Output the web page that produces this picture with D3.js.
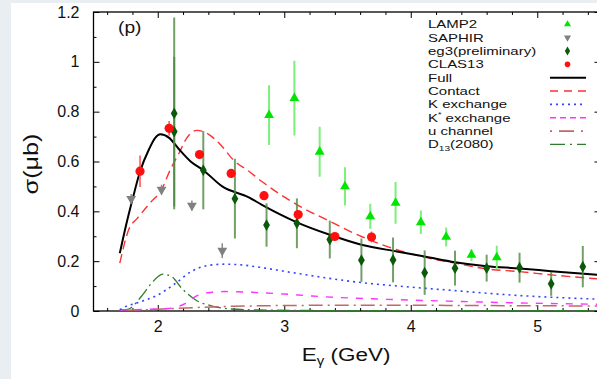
<!DOCTYPE html>
<html>
<head>
<meta charset="utf-8">
<script src="https://cdn.jsdelivr.net/npm/d3@7"></script>
<style>
  html, body { margin: 0; padding: 0; background: #e8eef2; }
  svg { display: block; }
  text { font-family: "Liberation Sans", Arial, Helvetica, sans-serif; fill: #111; }
</style>
</head>
<body>
<svg id="chart" width="597" height="379"></svg>
<script>
// ---- Data: K+ Lambda(1520) photoproduction total cross section (proton target) ----
const xTickValues = [2, 3, 4, 5];
const yTickValues = [0, 0.2, 0.4, 0.6, 0.8, 1.0, 1.2];
const yTickLabels = ["0", "0.2", "0.4", "0.6", "0.8", "1", "1.2"];

// Experimental points: photon energy (GeV), cross section (μb), error
const lampE   = [2.88, 3.08, 3.28, 3.48, 3.68, 3.88, 4.08, 4.28, 4.48, 4.68];
const lampS   = [0.786, 0.854, 0.639, 0.500, 0.380, 0.434, 0.356, 0.297, 0.225, 0.215];
const lampErr = [0.120, 0.150, 0.100, 0.077, 0.050, 0.084, 0.047, 0.038, 0.024, 0.047];

const saphirE   = [1.79, 2.03, 2.27, 2.51];
const saphirS   = [0.450, 0.487, 0.423, 0.242];
const saphirErr = [0.020, 0.020, 0.020, 0.030];

const eg3E   = [2.13, 2.13, 2.36, 2.61, 2.86, 3.10, 3.36, 3.61, 3.86, 4.11, 4.35, 4.60, 4.86, 5.11, 5.36];
const eg3S   = [0.793, 0.720, 0.565, 0.451, 0.345, 0.352, 0.287, 0.204, 0.205, 0.154, 0.172, 0.172, 0.174, 0.109, 0.178];
const eg3Err = [0.385, 0.300, 0.157, 0.160, 0.087, 0.100, 0.076, 0.087, 0.090, 0.089, 0.070, 0.054, 0.060, 0.048, 0.083];

const clasE   = [1.86, 2.09, 2.33, 2.58, 2.84, 3.11, 3.40, 3.69];
const clasS   = [0.561, 0.733, 0.628, 0.552, 0.463, 0.387, 0.299, 0.297];
const clasErr = [0.063, 0.030, 0.015, 0.015, 0.012, 0.012, 0.012, 0.022];

// Model curves
const fullE = [1.70, 1.75, 1.80, 1.86, 1.93, 1.98, 2.02, 2.09, 2.17, 2.26, 2.36, 2.51, 2.72, 2.82, 3.10, 3.36, 3.61, 3.89, 4.11, 4.35, 4.60, 4.86, 5.11, 5.50];
const fullS = [0.232, 0.345, 0.447, 0.560, 0.648, 0.695, 0.709, 0.695, 0.648, 0.600, 0.565, 0.500, 0.456, 0.427, 0.356, 0.306, 0.266, 0.239, 0.219, 0.196, 0.180, 0.171, 0.160, 0.144];

const contactE = [1.70, 1.77, 1.84, 1.94, 2.03, 2.10, 2.17, 2.23, 2.31, 2.40, 2.50, 2.60, 2.72, 2.82, 3.10, 3.36, 3.61, 3.89, 4.11, 4.35, 4.60, 4.86, 5.11, 5.50];
const contactS = [0.192, 0.326, 0.373, 0.434, 0.487, 0.568, 0.635, 0.695, 0.725, 0.710, 0.665, 0.605, 0.561, 0.521, 0.427, 0.360, 0.299, 0.246, 0.216, 0.192, 0.169, 0.158, 0.145, 0.128];

const kExE = [1.70, 1.72, 1.87, 2.00, 2.14, 2.27, 2.40, 2.53, 2.66, 2.85, 3.09, 3.61, 3.90, 4.27, 4.80, 5.50];
const kExS = [0.005, 0.011, 0.038, 0.064, 0.111, 0.160, 0.183, 0.188, 0.185, 0.172, 0.152, 0.114, 0.100, 0.085, 0.064, 0.047];

const kStarE = [1.70, 2.00, 2.11, 2.22, 2.32, 2.43, 2.53, 2.74, 3.00, 3.22, 3.74, 4.27, 4.80, 5.50];
const kStarS = [0.005, 0.008, 0.011, 0.031, 0.064, 0.075, 0.078, 0.075, 0.068, 0.060, 0.048, 0.040, 0.033, 0.027];

const uChE = [1.70, 2.00, 2.30, 2.60, 3.00, 3.50, 4.00, 4.50, 5.00, 5.50];
const uChS = [0.002, 0.007, 0.014, 0.019, 0.022, 0.023, 0.023, 0.022, 0.021, 0.020];

const d13E = [1.70, 1.77, 1.87, 1.95, 2.04, 2.11, 2.19, 2.30, 2.43, 2.58, 2.80, 3.20, 4.00, 5.50];
const d13S = [0.002, 0.008, 0.058, 0.111, 0.148, 0.138, 0.091, 0.044, 0.020, 0.008, 0.004, 0.002, 0.001, 0.001];

// ---- Layout ----
const svg = d3.select("#chart");
const W = 597, H = 379;
const plot = { left: 94, right: 600.5, top: 12, bottom: 311 };
const textStretch = 1.2; // typeface drawn slightly wide

svg.append("rect").attr("x", 0).attr("y", 0).attr("width", W).attr("height", H).attr("fill", "#e8eef2");
svg.append("rect").attr("x", 11).attr("y", 3).attr("width", W - 11).attr("height", H - 3).attr("fill", "#ffffff");

const x = d3.scaleLinear().domain([1.5, 5.5]).range([94.5, 600.5]);
const y = d3.scaleLinear().domain([0, 1.2]).range([plot.bottom, plot.top]);

svg.append("defs").append("clipPath").attr("id", "plotClip")
  .append("rect").attr("x", plot.left).attr("y", plot.top)
  .attr("width", plot.right - plot.left).attr("height", plot.bottom - plot.top);

// ---- Axes (ticks pointing inward on all four sides) ----
const xMinor = d3.range(1.6, 5.41, 0.2).filter(v => !xTickValues.some(t => Math.abs(t - v) < 1e-6));
const yMinor = d3.range(0.1, 1.2, 0.2);

function axisGroup(gen, tx, ty) {
  const g = svg.append("g").attr("transform", `translate(${tx},${ty})`).call(gen);
  g.select(".domain").remove();
  g.selectAll(".tick line").attr("stroke", "#000").attr("stroke-width", 1);
  return g;
}

// major ticks with labels
const gxB = axisGroup(d3.axisBottom(x).tickValues(xTickValues).tickSize(-6).tickPadding(10).tickFormat(d3.format("d")), 0, plot.bottom);
gxB.selectAll(".tick text").attr("font-size", 16).attr("fill", "#111").attr("font-family", "Liberation Sans, Arial, sans-serif");
const gyL = axisGroup(d3.axisLeft(y).tickValues(yTickValues).tickSize(-6).tickPadding(14)
  .tickFormat((d, i) => yTickLabels[i]), plot.left - 0.5, 0);
gyL.selectAll(".tick text").attr("font-size", 16).attr("fill", "#111").attr("font-family", "Liberation Sans, Arial, sans-serif");

// mirrored majors and minors
axisGroup(d3.axisTop(x).tickValues(xTickValues).tickSize(-6).tickFormat(""), 0, plot.top);
axisGroup(d3.axisBottom(x).tickValues(xMinor).tickSize(-3).tickFormat(""), 0, plot.bottom);
axisGroup(d3.axisTop(x).tickValues(xMinor).tickSize(-3).tickFormat(""), 0, plot.top);
axisGroup(d3.axisLeft(y).tickValues(yMinor).tickSize(-3).tickFormat(""), plot.left - 0.5, 0);
axisGroup(d3.axisRight(y).tickValues(yTickValues).tickSize(-6).tickFormat(""), plot.right, 0);
axisGroup(d3.axisRight(y).tickValues(yMinor).tickSize(-3).tickFormat(""), plot.right, 0);

// frame
svg.append("rect").attr("x", plot.left - 0.5).attr("y", plot.top)
  .attr("width", plot.right - plot.left + 0.5).attr("height", plot.bottom - plot.top)
  .attr("fill", "none").attr("stroke", "#000").attr("stroke-width", 1.3);

// ---- Curves ----
const curves = [
  { e: d13E, s: d13S, color: "#2e7d2e", dash: "13,4,2,4", width: 1.3 },
  { e: uChE, s: uChS, color: "#c06868", dash: "2,5,14,5", width: 1.5 },
  { e: kStarE, s: kStarS, color: "#ff33ff", dash: "7,8", width: 1.4 },
  { e: kExE, s: kExS, color: "#3344ff", dash: "2,4", width: 1.6 },
  { e: contactE, s: contactS, color: "#ff3030", dash: "9,5", width: 1.4 },
  { e: fullE, s: fullS, color: "#000000", dash: null, width: 2 }
];
const lineGen = d3.line().x(d => x(d[0])).y(d => y(d[1])).curve(d3.curveMonotoneX);
const curveLayer = svg.append("g").attr("clip-path", "url(#plotClip)");
curves.forEach(c => {
  curveLayer.append("path")
    .attr("d", lineGen(d3.zip(c.e, c.s)))
    .attr("fill", "none").attr("stroke", c.color).attr("stroke-width", c.width)
    .attr("stroke-dasharray", c.dash);
});

// ---- Data points with error bars ----
const markLayer = svg.append("g").attr("clip-path", "url(#plotClip)");
const triUp = d3.symbol().type(d3.symbolTriangle);
const diamond = d3.symbol().type(d3.symbolDiamond);

function errorBars(E, S, Err, color, width, opacity) {
  markLayer.selectAll(null).data(d3.zip(E, S, Err)).join("line")
    .attr("x1", d => x(d[0])).attr("x2", d => x(d[0]))
    .attr("y1", d => y(d[1] + d[2])).attr("y2", d => y(d[1] - d[2]))
    .attr("stroke", color).attr("stroke-width", width).attr("opacity", opacity);
}
errorBars(eg3E, eg3S, eg3Err, "#4f8a43", 2, 0.8);
errorBars(lampE, lampS, lampErr, "#7cf07c", 2, 1);
errorBars(clasE, clasS, clasErr, "#ff5050", 1.5, 1);
errorBars(saphirE, saphirS, saphirErr, "#8a8a8a", 1.5, 1);

markLayer.selectAll(null).data(d3.zip(lampE, lampS)).join("path")
  .attr("d", triUp.size(42)()).attr("transform", d => `translate(${x(d[0])},${y(d[1])})`)
  .attr("fill", "#00e600");
markLayer.selectAll(null).data(d3.zip(saphirE, saphirS)).join("path")
  .attr("d", triUp.size(42)()).attr("transform", d => `translate(${x(d[0])},${y(d[1])}) rotate(180)`)
  .attr("fill", "#808080");
markLayer.selectAll(null).data(d3.zip(eg3E, eg3S)).join("path")
  .attr("d", diamond.size(40)()).attr("transform", d => `translate(${x(d[0])},${y(d[1])})`)
  .attr("fill", "#0a5a0a");
markLayer.selectAll(null).data(d3.zip(clasE, clasS)).join("circle")
  .attr("cx", d => x(d[0])).attr("cy", d => y(d[1])).attr("r", 4.6)
  .attr("fill", "#ff1010");

// ---- Panel label ----
svg.append("text").attr("transform", `translate(118,33) scale(${textStretch},1)`).attr("font-size", 16).text("(p)");

// ---- Axis titles ----
const xt = svg.append("text").attr("transform", `translate(346,361) scale(1.25,1)`)
  .attr("text-anchor", "middle").attr("font-size", 18);
xt.append("tspan").text("E");
xt.append("tspan").attr("font-size", 12).attr("dy", 4).text("γ");
xt.append("tspan").attr("dy", -4).text(" (GeV)");

svg.append("text").attr("transform", `translate(37.5,164) rotate(-90) scale(${textStretch},1)`)
  .attr("text-anchor", "middle").attr("font-size", 21).text("σ(μb)");

// ---- Legend ----
const legendNames = ["LAMP2", "SAPHIR", "eg3(preliminary)", "CLAS13", "Full", "Contact", "K exchange", "K* exchange", "u channel", "D13(2080)"];
const lgX = 428, lgY0 = 28.3, lgDy = 13.35, sampleX0 = 550, sampleX1 = 586, symX = 567.5;
const lg = svg.append("g");
legendNames.forEach((name, i) => {
  const by = lgY0 + i * lgDy;
  const t = lg.append("text").attr("transform", `translate(${lgX},${by}) scale(1.27,1)`)
    .attr("font-size", 11.8);
  if (name === "K* exchange") {
    t.append("tspan").text("K");
    t.append("tspan").attr("font-size", 7).attr("dy", -5).text("*");
    t.append("tspan").attr("dy", 5).text(" exchange");
  } else if (name === "D13(2080)") {
    t.append("tspan").text("D");
    t.append("tspan").attr("font-size", 8).attr("dy", 3).text("13");
    t.append("tspan").attr("dy", -3).text("(2080)");
  } else {
    t.text(name);
  }
});
const sy = i => lgY0 + i * lgDy - 4;
lg.append("path").attr("d", triUp.size(22)()).attr("transform", `translate(${symX},${sy(0)})`).attr("fill", "#00e600");
lg.append("path").attr("d", triUp.size(22)()).attr("transform", `translate(${symX},${sy(1)}) rotate(180)`).attr("fill", "#808080");
lg.append("path").attr("d", diamond.size(24)()).attr("transform", `translate(${symX},${sy(2)})`).attr("fill", "#0a5a0a");
lg.append("circle").attr("cx", symX).attr("cy", sy(3)).attr("r", 2.8).attr("fill", "#ff1010");
const legendLines = [
  { i: 4, color: "#000000", dash: null, width: 2 },
  { i: 5, color: "#ff3030", dash: "8,6", width: 1.4 },
  { i: 6, color: "#3344ff", dash: "2,4", width: 1.6 },
  { i: 7, color: "#ff33ff", dash: "6,4", width: 1.4 },
  { i: 8, color: "#c06868", dash: "2,7,15,7", width: 1.6 },
  { i: 9, color: "#2e7d2e", dash: "15,5,2,5", width: 1.3 }
];
legendLines.forEach(l => {
  lg.append("line").attr("x1", sampleX0).attr("x2", sampleX1).attr("y1", sy(l.i)).attr("y2", sy(l.i))
    .attr("stroke", l.color).attr("stroke-width", l.width).attr("stroke-dasharray", l.dash);
});
</script>
</body>
</html>
